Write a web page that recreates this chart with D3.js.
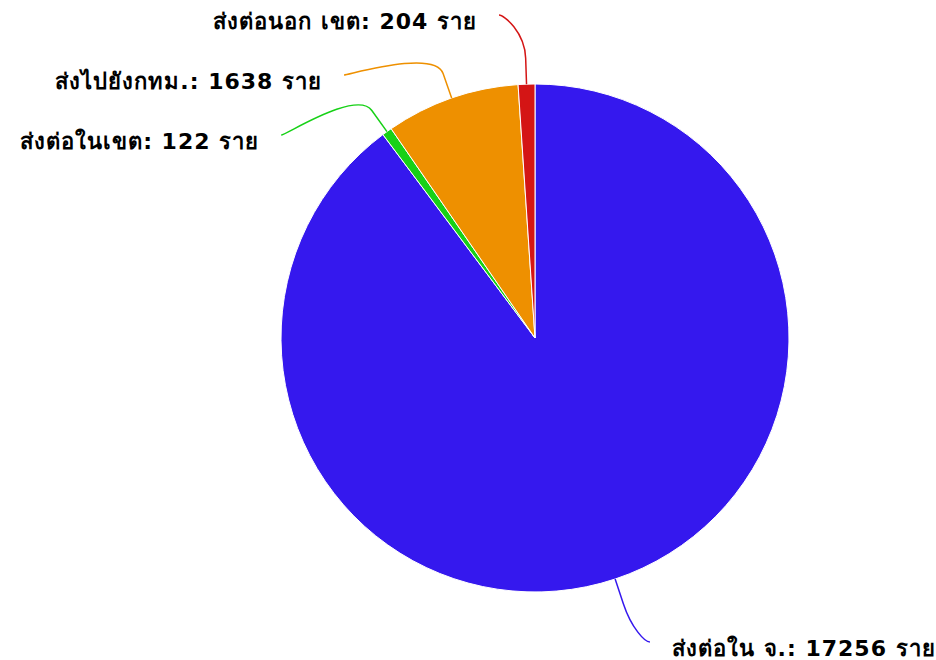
<!DOCTYPE html>
<html>
<head>
<meta charset="utf-8">
<script src="https://cdn.jsdelivr.net/npm/d3@7"></script>
<style>
  body { margin: 0; background: #fff; }
  .label { font-family: "DejaVu Sans", sans-serif; font-weight: bold; font-size: 22px; letter-spacing: 1px; }
</style>
</head>
<body>
<svg id="svg"></svg>
<script>
// data: referral counts
const names = ["ส่งต่อใน จ.", "ส่งต่อในเขต", "ส่งไปยังกทม.", "ส่งต่อนอก เขต"];
const values = [17256, 122, 1638, 204];
const colors = ["#3518ee", "#17d117", "#ee9000", "#d41515"];
const unit = "ราย";

const width = 936;
const height = 660;

const cx = 535;
const cy = 338;
const radius = 254;
const labelRadius = 325;
const breakOffset = 26;
const spacing = 60;
const edgeTop = 15;
const edgeBottom = 18;

const svg = d3
    .select("#svg")
    .attr("width", width)
    .attr("height", height);

const pie = d3
    .pie()
    .sort(null)
    .value((d) => d.value);

const arc = d3.arc().innerRadius(0).outerRadius(radius);

const slices = pie(names.map((n, i) => ({ name: n, value: values[i], color: colors[i] })));

const g = svg.append("g").attr("transform", `translate(${cx},${cy})`);

g.selectAll("path.slice")
    .data(slices)
    .join("path")
    .attr("class", "slice")
    .attr("d", arc)
    .attr("fill", (d) => d.data.color)
    .attr("stroke", "#fff")
    .attr("stroke-width", 1);

// label layout: natural position then push apart on each side
slices.forEach((d) => {
    d.mid = (d.startAngle + d.endAngle) / 2;
    d.left = d.mid > Math.PI;
    d.ly = -labelRadius * Math.cos(d.mid);
});

function spread(list) {
    list.sort((a, b) => a.ly - b.ly);
    let prev = -Infinity;
    list.forEach((d) => {
        d.ly = Math.max(d.ly, prev + spacing, -cy + edgeTop);
        prev = d.ly;
    });
    for (let i = list.length - 1; i >= 0; i--) {
        const limit = i === list.length - 1 ? height - cy - edgeBottom : list[i + 1].ly - spacing;
        list[i].ly = Math.min(list[i].ly, limit);
    }
}

spread(slices.filter((d) => d.left));
spread(slices.filter((d) => !d.left));

slices.forEach((d) => {
    const dx = Math.sqrt(Math.max(labelRadius * labelRadius - d.ly * d.ly, 0));
    d.lx = d.left ? -dx : dx;
});

function connector(d) {
    const s = Math.sin(d.mid);
    const c = -Math.cos(d.mid);
    const tx = radius * s;
    const ty = radius * c;
    const bx = (radius + breakOffset) * s;
    const by = (radius + breakOffset) * c;
    const p = d3.path();
    p.moveTo(d.lx, d.ly);
    p.bezierCurveTo(d.lx + (d.left ? 5 : -5), d.ly, 2 * bx - tx, 2 * by - ty, bx, by);
    p.lineTo(tx, ty);
    return p.toString();
}

g.selectAll("path.connector")
    .data(slices)
    .join("path")
    .attr("class", "connector")
    .attr("d", connector)
    .attr("fill", "none")
    .attr("stroke", (d) => d.data.color)
    .attr("stroke-width", 1.5);

g.selectAll("text.label")
    .data(slices)
    .join("text")
    .attr("class", "label")
    .attr("x", (d) => d.lx + (d.left ? -22 : 22))
    .attr("y", (d) => d.ly + 14)
    .attr("text-anchor", (d) => (d.left ? "end" : "start"))
    .attr("fill", "#000")
    .attr("stroke", "#fff")
    .attr("stroke-width", 2)
    .attr("paint-order", "stroke")
    .text((d) => `${d.data.name}: ${d.data.value} ${unit}`);
</script>
</body>
</html>
